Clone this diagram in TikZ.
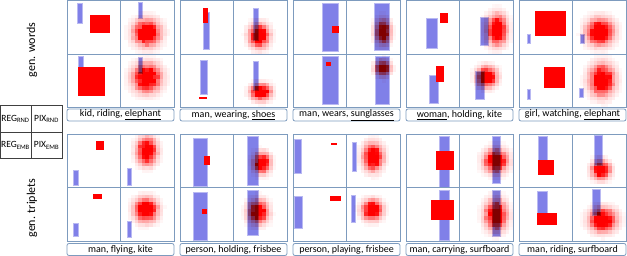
\documentclass[tikz,border=0pt]{standalone}
\usepackage{fontspec}
\setmainfont{Carlito}
\definecolor{framecol}{RGB}{125,155,190}
\definecolor{barblue}{RGB}{128,128,232}
\tikzset{
  panelline/.style={draw=framecol, line width=0.8pt},
  barbox/.style={fill=barblue, draw=barblue!55!white, line width=0.5pt},
  redbox/.style={fill=red},
  capbox/.style={draw=framecol, line width=0.8pt, rounded corners=2pt, minimum width=107pt, minimum height=12pt, inner sep=0pt, font=\fontsize{10}{12}\selectfont},
  tabcell/.style={draw=black!75, line width=0.6pt, minimum width=31pt, minimum height=26.5pt, inner sep=0pt, font=\fontsize{9.5}{11}\selectfont},
  sidelabel/.style={rotate=90, font=\fontsize{12}{14}\selectfont}
}
\begin{document}
\begin{tikzpicture}[x=1pt,y=-1pt]
\useasboundingbox (0,0) rectangle (627,256);
\pgfmathsetseed{7}

% bounding boxes: blue = subject/relation, red = object
\foreach \xa/\ya/\xb/\yb in {77/3/82/23,138/2/142/18,78/56/83/80,138/57/142/73,
  203/12/209/49,253/8/258/40,200/60/207/94,253/61/258/90,
  322/3/338/51,374/3/389/50,322/56/338/104,375/56/389/104,
  426/18/437/48,480/17/488/45,429/75/438/103,475/71/484/99,
  527/34/530/43,580/34/584/43,527/89/530/99,579/88/583/97,
  73/170/78/185,127/168/131/185,73/223/78/236,127/221/131/237,
  193/138/207/186,247/136/258/185,193/192/207/240,247/190/258/235,
  294/139/301/173,352/142/356/171,294/196/302/228,351/195/355/222,
  439/136/449/187,492/136/500/183,439/190/449/240,492/190/500/236,
  538/136/547/160,594/135/602/165,537/191/547/213,592/189/600/215}
  {\filldraw[barbox] (\xa,\ya) rectangle (\xb,\yb);}

\foreach \xa/\ya/\xb/\yb in {90/15/110/33,78/67/105/96,
  203/8/208/23,199/97/207/99,332/26/339/33,326/62/331/66,
  440/13/448/23,436/66/444/82,535/11/566/36,544/67/565/88,
  96/141/104/150,93/194/102/199,204/156/210/165,202/209/207/214,
  331/143/337/145,330/196/341/201,436/151/454/170,431/200/454/220,
  538/160/554/175,537/213/557/225}
  {\fill[redbox] (\xa,\ya) rectangle (\xb,\yb);}

% pixel heatmaps
\foreach \hx/\hy/\cx/\cy/\sx/\sy in {120.5/0.5/147/33/8/8,120.5/54/147/78/8.5/8.5,
  233.5/0.5/259/36/6/7,233.5/54/261/92/6/5,346.5/0.5/383/32/4.5/7,346.5/54/383/68/4.5/4.5,
  459.5/0.5/497/30/6/9,459.5/54/487/77/6/6,572.5/0.5/600/32/8/8,572.5/54/602/80/7.5/9.5,
  120.5/134/147/151/6/8,120.5/187.5/146/210/7/7,233.5/134/262/163/5/6,233.5/187.5/258/212/6/7,
  346.5/134/373/157/6/8,346.5/187.5/372/210/6/6,459.5/134/496/161/7/7,459.5/187.5/496/215/6.5/9,
  572.5/134/601/170/5.5/5.5,572.5/187.5/603/220/8/7}{
  \begin{scope}[blend mode=multiply]
    \clip (\hx,\hy) rectangle +(53.5,53.5);
    \foreach \i in {0,...,14}{
      \foreach \j in {0,...,14}{
        \pgfmathsetmacro\ex{min(((\hx+(\i+0.5)*3.567-\cx)^2/(2*\sx*\sx)+(\hy+(\j+0.5)*3.567-\cy)^2/(2*\sy*\sy)),12)}
        \pgfmathsetmacro\heat{min(exp(-\ex)*(0.8+0.4*rnd)*1.5,1)}
        \ifdim\heat pt>0.03pt
          \fill[red, fill opacity=\heat] (\hx+\i*3.567,\hy+\j*3.567) rectangle +(3.567,3.567);
        \fi
      }
    }
  \end{scope}
}

% panel frames
\foreach \px in {67,180,293,406,519}{
  \foreach \py in {0.5,134}{
    \draw[panelline] (\px,\py) rectangle +(107,107);
    \draw[panelline] (\px+53.5,\py) -- +(0,107);
    \draw[panelline] (\px,\py+53.5) -- +(107,0);
  }
}

% captions
\foreach \px/\n/\txt in {67/a/{kid, riding, \underline{elephant}},180/b/{man, wearing, \underline{shoes}},
  293/c/{man, wears, \underline{sunglasses}},406/d/{\underline{woman}, holding, kite},
  519/e/{girl, watching, \underline{elephant}}}
  {\node[capbox] (words-\n) at (\px+53.5,115) {\txt};}
\foreach \px/\n/\txt in {67/a/{man, flying, kite},180/b/{person, holding, frisbee},
  293/c/{person, playing, frisbee},406/d/{man, carrying, surfboard},
  519/e/{man, riding, surfboard}}
  {\node[capbox] (triplets-\n) at (\px+53.5,249.5) {\txt};}

\node[sidelabel] (genwords) at (32,50) {gen. words};
\node[sidelabel] (gentriplets) at (32,208) {gen. triplets};

\node[tabcell] (regrnd) at (15.5,119) {REG\textsubscript{RND}};
\node[tabcell] (pixrnd) at (46.5,119) {PIX\textsubscript{RND}};
\node[tabcell] (regemb) at (15.5,145.5) {REG\textsubscript{EMB}};
\node[tabcell] (pixemb) at (46.5,145.5) {PIX\textsubscript{EMB}};
\end{tikzpicture}
\end{document}
